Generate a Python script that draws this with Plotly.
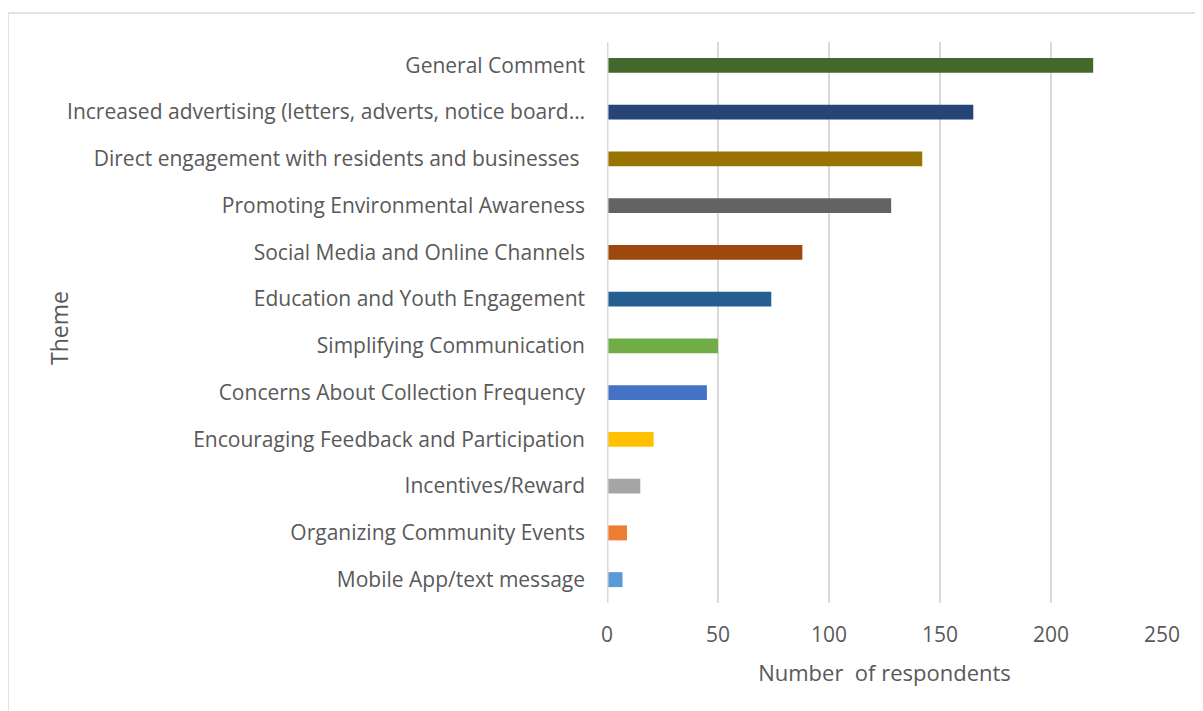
import plotly.graph_objects as go

categories = [
    "Mobile App/text message",
    "Organizing Community Events",
    "Incentives/Reward",
    "Encouraging Feedback and Participation",
    "Concerns About Collection Frequency",
    "Simplifying Communication",
    "Education and Youth Engagement",
    "Social Media and Online Channels",
    "Promoting Environmental Awareness",
    "Direct engagement with residents and businesses ",
    "Increased advertising (letters, adverts, notice board…",
    "General Comment",
]
values = [7, 9, 15, 21, 45, 50, 74, 88, 128, 142, 165, 219]
colors = ["#5b9bd5", "#ed7d31", "#a5a5a5", "#ffc000", "#4472c4", "#70ad47",
          "#255e91", "#9e480e", "#636363", "#997300", "#264478", "#43682b"]
x_ticks = [0, 50, 100, 150, 200, 250]

OFF = 8  # page body margin
W, H = 1203 - OFF, 711 - OFF
ml = 607 - OFF
mt = 42 - OFF
pw = 555
mr = W - ml - pw
ph = 561
mb = H - mt - ph


def px(x):
    return (x - OFF - ml) / pw


def py(y):
    return (mt + ph - (y - OFF)) / ph


fig = go.Figure(go.Bar(
    x=values, y=categories, orientation="h",
    marker=dict(color=colors, line=dict(width=0)),
    width=0.32, hoverinfo="x+y",
))

font = "'Open Sans', sans-serif"
fs = 21
fig.update_layout(
    width=W, height=H,
    margin=dict(l=ml, r=mr, t=mt, b=mb),
    plot_bgcolor="white", paper_bgcolor="white",
    font=dict(family=font, size=fs, color="#595959"),
    showlegend=False,
    xaxis=dict(range=[0, 250], tickvals=x_ticks, showgrid=True,
               gridcolor="#d9d9d9", gridwidth=1.5, zeroline=False,
               showline=False, ticks="", ticklabelstandoff=17,
               tickfont=dict(size=fs, color="#595959"),
               title=dict(text="Number  of respondents", standoff=18,
                          font=dict(size=22, color="#595959"))),
    yaxis=dict(type="category", showgrid=False, zeroline=False,
               showline=False, ticks="", ticklabelstandoff=21,
               tickfont=dict(size=fs, color="#595959"),
               range=[-0.5, 11.5]),
    shapes=[
        dict(type="line", xref="x", yref="paper", x0=0, x1=0, y0=0, y1=1,
             line=dict(color="#d9d9d9", width=3), layer="above"),
        dict(type="rect", xref="paper", yref="paper",
             x0=px(8), x1=px(1215), y0=py(725), y1=py(13),
             line=dict(color="#d9d9d9", width=1.5), layer="below"),
    ],
    annotations=[
        dict(text="Theme", xref="paper", yref="paper",
             x=px(59), y=py(328), showarrow=False,
             textangle=-90, font=dict(size=23, color="#595959"),
             xanchor="center", yanchor="middle"),
    ],
)

fig.write_html("out.html")
